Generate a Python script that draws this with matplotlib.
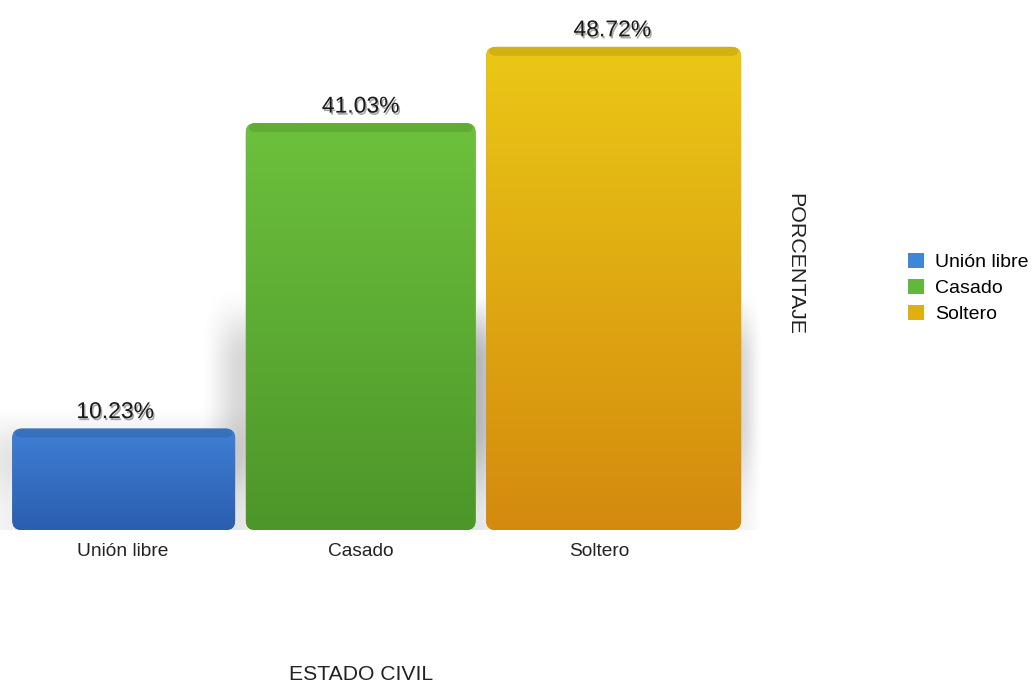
import numpy as np
import matplotlib
matplotlib.use("Agg")
import matplotlib.pyplot as plt
from matplotlib.patches import FancyBboxPatch, Patch
import matplotlib.patheffects as pe
from matplotlib.colors import LinearSegmentedColormap

plt.rcParams['font.family'] = ['Liberation Sans', 'DejaVu Sans']

categories = ["Unión libre", "Casado", "Soltero"]
values = [10.23, 41.03, 48.72]
value_labels = ["10.23%", "41.03%", "48.72%"]
top_colors = ["#3f80d6", "#6cc13c", "#eac816"]
bottom_colors = ["#2b5eae", "#4d962a", "#d48a0e"]
legend_colors = ["#3d86d8", "#62b83a", "#e0b012"]

fig = plt.figure(figsize=(10.33, 6.84), dpi=100)
ax = fig.add_axes([0.003, 0.225, 0.720, 0.754])
ax.set_xlim(-0.5, 2.62)
ax.set_ylim(0, 52)

x = np.arange(len(categories))
# perspective: bars further right are drawn a little wider and shifted
bar_shift = np.array([0.006, 0.0, 0.061])
bar_width = np.array([0.935, 0.964, 1.07])
label_shift = np.array([-0.03, 0.0, 0.055])

bars = ax.bar(x + bar_shift, values, width=bar_width, color="none",
              edgecolor="none", zorder=3)

# px per data unit, used to keep corner rounding circular
px_x = 0.720 * 1033 / (2.62 + 0.5)
px_y = 0.754 * 684 / 52
aspect = px_x / px_y


def smooth(t):
    t = np.clip(t, 0, 1)
    return t * t * (3 - 2 * t)


for i, b in enumerate(bars):
    x0, w, h = b.get_x(), b.get_width(), b.get_height()

    # soft backdrop shadow behind the lower part of the bar
    sx0, sx1 = x0 - 0.2, x0 + w + 0.1
    sy1 = min(h, 22.0) + 3.0
    xs = np.linspace(sx0, sx1, 200)
    ys = np.linspace(0, sy1, 200)
    fx = smooth((xs - sx0) / 0.19) * smooth((sx1 - xs) / 0.1)
    fy = smooth((sy1 - ys) / 8.0) * (0.35 + 0.65 * smooth((ys - 1) / 10.0))
    alpha = np.outer(fy, fx) * 0.16
    rgba = np.zeros((len(ys), len(xs), 4))
    rgba[..., 3] = alpha
    ax.imshow(rgba, origin="lower", aspect="auto", clip_on=False,
              extent=(sx0, sx1, 0, sy1), zorder=1, interpolation="bilinear")

    box = FancyBboxPatch((x0, 0), w, h,
                         boxstyle="round,pad=0,rounding_size=0.04",
                         mutation_aspect=aspect, facecolor=bottom_colors[i],
                         edgecolor="none", zorder=3)
    ax.add_patch(box)
    cmap = LinearSegmentedColormap.from_list("g", [bottom_colors[i], top_colors[i]])
    grad = np.linspace(0, 1, 256).reshape(-1, 1)
    im = ax.imshow(grad, cmap=cmap, origin="lower", aspect="auto",
                   extent=(x0, x0 + w, 0, h), zorder=4)
    im.set_clip_path(box)
    # darker lip along the top edge
    lip = FancyBboxPatch((x0 + 0.01, h - 0.9), w - 0.02, 0.9,
                         boxstyle="round,pad=0,rounding_size=0.03",
                         mutation_aspect=aspect, facecolor="black",
                         edgecolor="none", alpha=0.10, zorder=5)
    ax.add_patch(lip)
    ax.annotate(value_labels[i], (x[i] + label_shift[i], h), xytext=(0, 4),
                textcoords="offset points", ha="center", va="bottom",
                fontsize=16.5, color="#1a1a1a", zorder=6,
                path_effects=[pe.withSimplePatchShadow(offset=(1, -1.5),
                                                       shadow_rgbFace="black",
                                                       alpha=0.35)])

ax.set_xlim(-0.5, 2.62)
ax.set_ylim(0, 52)
ax.set_xticks(x)
ax.set_xticklabels(categories, fontsize=13.8, color="#222222")
ax.tick_params(axis="x", length=0, pad=9)
ax.set_yticks([])
for s in ax.spines.values():
    s.set_visible(False)

fig.text(361 / 1033, 1 - 674 / 684, "ESTADO CIVIL", ha="center", va="center",
         fontsize=15.2, color="#222222")
fig.text(795 / 1033, 1 - 264 / 684, "PORCENTAJE", ha="center", va="center",
         rotation=-90, fontsize=15.4, color="#222222")

handles = [Patch(facecolor=c, edgecolor="none") for c in legend_colors]
fig.legend(handles, categories, loc="center left",
           bbox_to_anchor=(0.866, 1 - 288 / 684),
           frameon=False, fontsize=14, handlelength=0.8, handleheight=0.8,
           handletextpad=0.6, labelspacing=0.4, borderpad=0.2)

fig.savefig("out.png", dpi=100)
